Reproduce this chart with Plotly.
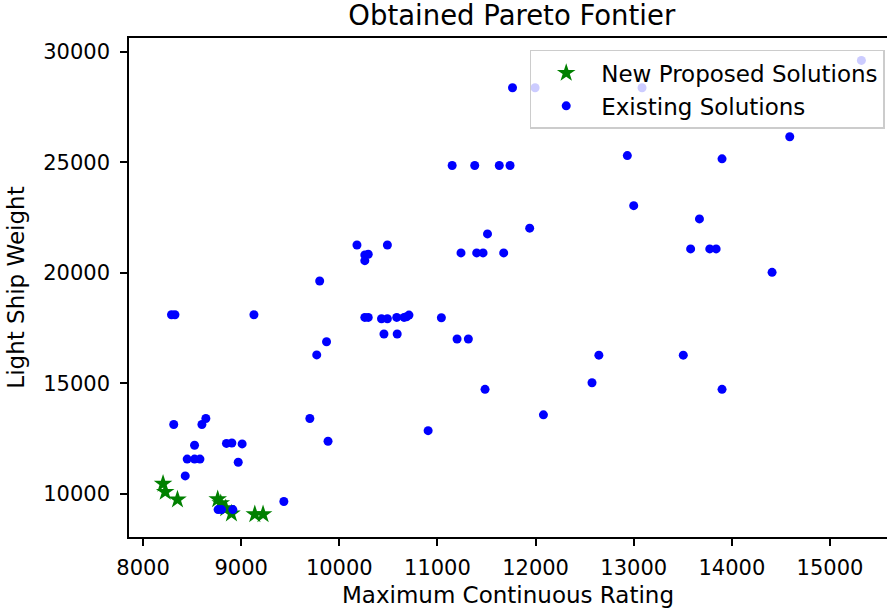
import plotly.graph_objects as go

# New proposed solutions (green stars)
new_x = [8204, 8226, 8351, 8761, 8792, 8843, 8901, 9139, 9223]
new_y = [10444, 10073, 9728, 9741, 9560, 9333, 9093, 9061, 9061]

# Existing solutions (blue dots)
exist_x = [8313, 8640, 8600, 9700, 9885, 8525, 8850, 8905, 9010, 8450, 8525, 8580, 8970, 8430, 9435,
           8765, 8800, 8915, 8290, 8325, 9130, 9800, 9870, 9770, 10180, 10490, 10260, 10295, 10260,
           11940, 11510, 11240, 11400, 11465, 11675, 10260, 10295, 10430, 10490, 10585, 10660, 10685,
           10710, 11040, 10455, 10590, 11200, 11315, 11485, 11150, 11380, 11630, 11740, 14590, 12935,
           13900, 13000, 13670, 13580, 13775, 13840, 14410, 12645, 13505, 12575, 13900, 12080, 11765,
           11995, 13085, 15320, 10905]
exist_y = [13130, 13400, 13130, 13400, 12370, 12190, 12270, 12290, 12250, 11560, 11560, 11560, 11420,
           10800, 9640, 9275, 9275, 9275, 18100, 18100, 18100, 19630, 16875, 16280, 21260, 21260, 20810,
           20840, 20550, 22020, 21760, 20900, 20900, 20900, 20900, 17980, 17980, 17920, 17920, 17980,
           17980, 18010, 18085, 17965, 17225, 17225, 17000, 17000, 14720, 24860, 24860, 24860, 24860,
           26160, 25310, 25160, 23040, 22440, 21080, 21080, 21080, 20020, 16270, 16270, 15020, 14720,
           13565, 28380, 28380, 28380, 29620, 12850]

x_ticks = [8000, 9000, 10000, 11000, 12000, 13000, 14000, 15000]
y_ticks = [10000, 15000, 20000, 25000, 30000]

FONT = "DejaVu Sans"

fig = go.Figure()
fig.add_trace(go.Scatter(
    x=new_x, y=new_y, mode="markers", name="New Proposed Solutions",
    marker=dict(symbol="star", size=14, color="#008000", line=dict(width=0)),
))
fig.add_trace(go.Scatter(
    x=exist_x, y=exist_y, mode="markers", name="Existing Solutions",
    marker=dict(symbol="circle", size=9, color="#0000ff", line=dict(width=0)),
))

fig.update_layout(
    width=887, height=610,
    margin=dict(l=129, r=0, t=38, b=73, pad=0, autoexpand=False),
    paper_bgcolor="white", plot_bgcolor="white",
    font=dict(family=FONT, size=21, color="black"),
    title=dict(text="Obtained Pareto Fontier", x=0.505, xanchor="center",
               xref="paper", yref="container", y=0.9754, yanchor="middle",
               font=dict(size=27.5, family=FONT, color="black")),
    legend=dict(x=0.997, xanchor="right", y=0.976, yanchor="top",
                bgcolor="rgba(255,255,255,0.8)", bordercolor="#cccccc", borderwidth=1.5,
                font=dict(size=23, family=FONT, color="black"), tracegroupgap=0,
                itemwidth=60),
    showlegend=True,
)
fig.update_xaxes(
    range=[7857, 15581], tickvals=x_ticks, ticktext=[str(v) for v in x_ticks],
    showgrid=False, zeroline=False, showline=True, linecolor="black", linewidth=1.6,
    mirror=True, ticks="outside", ticklen=7, tickwidth=1.6, tickcolor="black",
    tickfont=dict(size=21, family=FONT, color="black"), ticklabelstandoff=4,
    automargin=False,
    title=dict(text="Maximum Continuous Rating", font=dict(size=23, family=FONT, color="black"), standoff=8),
)
fig.update_yaxes(
    range=[8032, 30635], tickvals=y_ticks, ticktext=[str(v) for v in y_ticks],
    showgrid=False, zeroline=False, showline=True, linecolor="black", linewidth=1.6,
    mirror=False, ticks="outside", ticklen=7, tickwidth=1.6, tickcolor="black",
    tickfont=dict(size=21, family=FONT, color="black"), ticklabelstandoff=6,
    automargin=False,
    title=dict(text="Light Ship Weight", font=dict(size=23, family=FONT, color="black"), standoff=12),
)

fig.write_html("out.html")
